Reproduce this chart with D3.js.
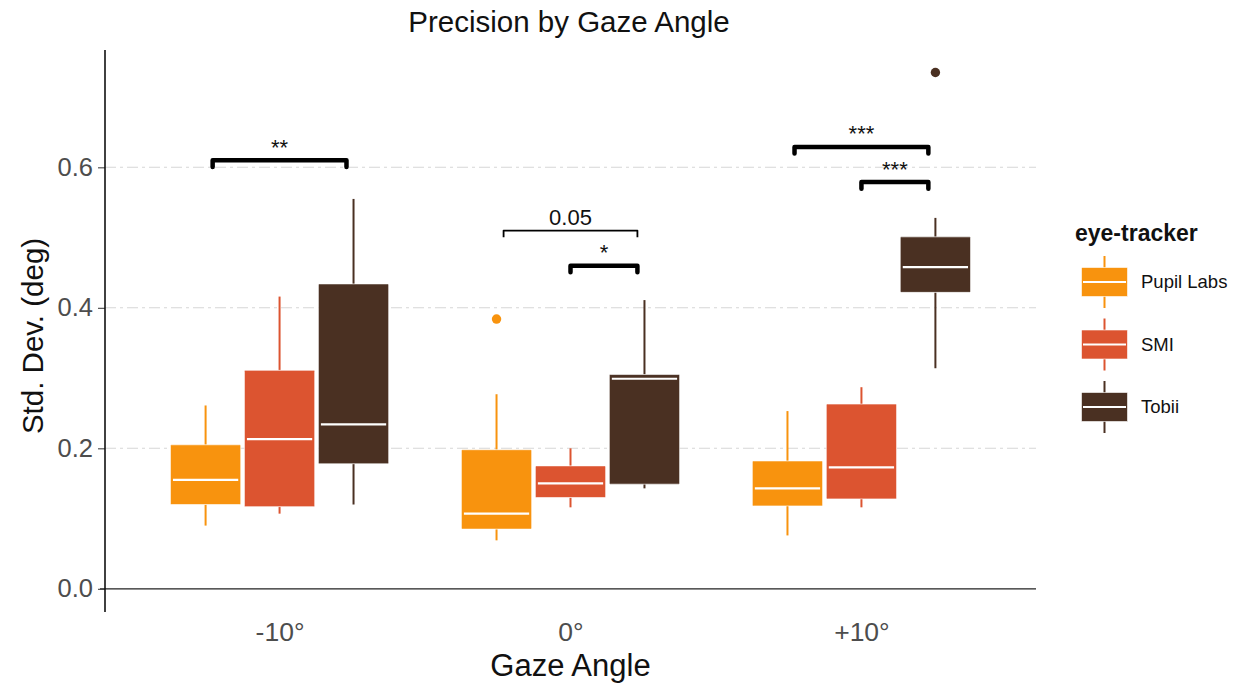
<!DOCTYPE html>
<html>
<head>
<meta charset="utf-8">
<script src="https://cdn.jsdelivr.net/npm/d3@7"></script>
<style>
  html, body { margin: 0; padding: 0; background: #ffffff; }
  svg { display: block; font-family: "Liberation Sans", Arial, sans-serif; }
</style>
</head>
<body>
<svg id="chart" width="1238" height="683"></svg>
<script>
// ---------------- data ----------------
const categories = ["-10°", "0°", "+10°"];
const trackers = ["Pupil Labs", "SMI", "Tobii"];
const trackerColors = ["#F8930E", "#DC5430", "#4A3022"];
const yTicks = [0.0, 0.2, 0.4, 0.6];
const gridValues = [0.2, 0.4, 0.6];

// [lower whisker, Q1, median, Q3, upper whisker] per gaze angle
const pupilStats = [
  [0.090, 0.120, 0.155, 0.205, 0.261],
  [0.069, 0.085, 0.107, 0.198, 0.277],
  [0.076, 0.118, 0.143, 0.182, 0.253]
];
const smiStats = [
  [0.107, 0.117, 0.213, 0.311, 0.416],
  [0.116, 0.130, 0.150, 0.175, 0.200],
  [0.116, 0.128, 0.173, 0.263, 0.287]
];
const tobiiStats = [
  [0.120, 0.178, 0.234, 0.434, 0.555],
  [0.143, 0.149, 0.299, 0.305, 0.411],
  [0.314, 0.422, 0.458, 0.501, 0.528]
];
const outlierCategory = ["0°", "+10°"];
const outlierTracker = ["Pupil Labs", "Tobii"];
const outlierValue = [0.384, 0.735];

// significance brackets
const bracketCategory = ["-10°", "0°", "0°", "+10°", "+10°"];
const bracketFrom = ["Pupil Labs", "Pupil Labs", "SMI", "Pupil Labs", "SMI"];
const bracketTo = ["Tobii", "Tobii", "Tobii", "Tobii", "Tobii"];
const bracketValue = [0.610, 0.510, 0.460, 0.629, 0.579];
const bracketLabel = ["**", "0.05", "*", "***", "***"];
const bracketThick = [true, false, true, true, true];

// ---------------- layout ----------------
const svg = d3.select("#chart");
const panel = { left: 105, right: 1036, top: 50, bottom: 612 };

const x = d3.scalePoint().domain(categories).range([panel.left, panel.right]).padding(0.6);
const step = x.step();
const dodge = d3.scaleBand().domain(trackers).range([-0.375 * step, 0.375 * step]).paddingInner(0.05);
const dodgeCenter = t => dodge(t) + dodge.bandwidth() / 2;
const y = d3.scaleLinear().domain([-0.033, 0.767]).range([panel.bottom, panel.top]);
const color = d3.scaleOrdinal().domain(trackers).range(trackerColors);

// grid
svg.append("g").selectAll("line").data(gridValues).join("line")
  .attr("x1", panel.left).attr("x2", panel.right)
  .attr("y1", d => y(d)).attr("y2", d => y(d))
  .attr("stroke", "#d6d6d6").attr("stroke-width", 1.1)
  .attr("stroke-dasharray", "11,4,3,4");

// y=0 horizontal line
svg.append("line")
  .attr("x1", panel.left - 5).attr("x2", panel.right)
  .attr("y1", y(0)).attr("y2", y(0))
  .attr("stroke", "#222").attr("stroke-width", 1.2);

// y axis
const yAxis = d3.axisLeft(y).tickValues(yTicks).tickFormat(d3.format(".1f")).tickSize(7).tickPadding(5);
const yg = svg.append("g").attr("transform", `translate(${panel.left},0)`).call(yAxis);
yg.select(".domain").remove();
yg.selectAll(".tick line").attr("stroke", "#444").attr("stroke-width", 1.1);
yg.selectAll(".tick text").attr("fill", "#4d4d4d").attr("font-size", 25.5)
  .attr("font-family", "Liberation Sans, Arial, sans-serif");
svg.append("line")
  .attr("x1", panel.left).attr("x2", panel.left)
  .attr("y1", panel.top).attr("y2", panel.bottom)
  .attr("stroke", "#111").attr("stroke-width", 1.6);

// x axis labels (no ticks, no line)
const xAxis = d3.axisBottom(x).tickSize(0).tickPadding(10);
const xg = svg.append("g").attr("transform", `translate(0,${panel.bottom})`).call(xAxis);
xg.select(".domain").remove();
xg.selectAll(".tick text").attr("fill", "#4d4d4d").attr("font-size", 26.5)
  .attr("font-family", "Liberation Sans, Arial, sans-serif");

// titles
svg.append("text").attr("x", 569).attr("y", 32).attr("text-anchor", "middle")
  .attr("font-size", 29.5).attr("fill", "#111").text("Precision by Gaze Angle");
svg.append("text").attr("x", (panel.left + panel.right) / 2).attr("y", 676).attr("text-anchor", "middle")
  .attr("font-size", 31).attr("fill", "#111").text("Gaze Angle");
svg.append("text").attr("transform", `translate(43,${(panel.top + panel.bottom) / 2 + 5}) rotate(-90)`)
  .attr("text-anchor", "middle").attr("font-size", 29.5).attr("fill", "#111").text("Std. Dev. (deg)");

// boxes
const statsByTracker = [pupilStats, smiStats, tobiiStats];
const boxes = [];
trackers.forEach((t, ti) => {
  categories.forEach((c, ci) => {
    const s = statsByTracker[ti][ci];
    boxes.push({ tracker: t, cat: c, lo: s[0], q1: s[1], med: s[2], q3: s[3], hi: s[4] });
  });
});

const bw = dodge.bandwidth();
const bg = svg.append("g");
const bgs = bg.selectAll("g").data(boxes).join("g")
  .attr("transform", d => `translate(${x(d.cat) + dodgeCenter(d.tracker)},0)`);
bgs.append("line").attr("x1", 0).attr("x2", 0)
  .attr("y1", d => y(d.hi)).attr("y2", d => y(d.q3))
  .attr("stroke", d => color(d.tracker)).attr("stroke-width", 2);
bgs.append("line").attr("x1", 0).attr("x2", 0)
  .attr("y1", d => y(d.q1)).attr("y2", d => y(d.lo))
  .attr("stroke", d => color(d.tracker)).attr("stroke-width", 2);
bgs.append("rect")
  .attr("x", -bw / 2).attr("width", bw)
  .attr("y", d => y(d.q3)).attr("height", d => y(d.q1) - y(d.q3))
  .attr("fill", d => color(d.tracker)).attr("stroke", "#ffffff").attr("stroke-width", 0.6).attr("rx", 1);
bgs.append("line").attr("x1", -bw / 2 + 2.5).attr("x2", bw / 2 - 2.5)
  .attr("y1", d => y(d.med)).attr("y2", d => y(d.med))
  .attr("stroke", "#ffffff").attr("stroke-width", 2.2);

// outliers
svg.append("g").selectAll("circle").data(outlierValue.map((v, i) => ({ v, c: outlierCategory[i], t: outlierTracker[i] })))
  .join("circle")
  .attr("cx", d => x(d.c) + dodgeCenter(d.t)).attr("cy", d => y(d.v)).attr("r", 4.7)
  .attr("fill", d => color(d.t));

// brackets
const brackets = bracketValue.map((v, i) => ({
  cat: bracketCategory[i], from: bracketFrom[i], to: bracketTo[i], v, label: bracketLabel[i], thick: bracketThick[i]
}));
const offsetFor = t => (trackers.indexOf(t) - 1) * 0.23 * step;
const tip = 0.0095;
const brg = svg.append("g");
brackets.forEach(b => {
  const x1 = x(b.cat) + offsetFor(b.from);
  const x2 = x(b.cat) + offsetFor(b.to);
  const path = d3.path();
  path.moveTo(x1, y(b.v - tip));
  path.lineTo(x1, y(b.v));
  path.lineTo(x2, y(b.v));
  path.lineTo(x2, y(b.v - tip));
  brg.append("path").attr("d", path.toString()).attr("fill", "none")
    .attr("stroke", "#000").attr("stroke-width", b.thick ? 4.5 : 1.8)
    .attr("stroke-linecap", b.thick ? "round" : "butt").attr("stroke-linejoin", "round");
  brg.append("text").attr("x", (x1 + x2) / 2).attr("y", y(b.v) - 5.5)
    .attr("text-anchor", "middle").attr("font-size", 22).attr("fill", "#111").text(b.label);
});

// legend
const lg = svg.append("g");
lg.append("text").attr("x", 1075).attr("y", 241).attr("font-size", 23).attr("font-weight", "bold")
  .attr("fill", "#111").text("eye-tracker");
const legendY = d3.scalePoint().domain(trackers).range([282, 407]);
const keyX = 1104.5, keyW = 46, keyH = 29, keyWh = 26;
const items = lg.selectAll("g.item").data(trackers).join("g").attr("class", "item")
  .attr("transform", t => `translate(${keyX},${legendY(t)})`);
items.append("line").attr("x1", 0).attr("x2", 0).attr("y1", -keyWh).attr("y2", keyWh)
  .attr("stroke", t => color(t)).attr("stroke-width", 2);
items.append("rect").attr("x", -keyW / 2).attr("y", -keyH / 2).attr("width", keyW).attr("height", keyH)
  .attr("fill", t => color(t)).attr("stroke", "#ffffff").attr("stroke-width", 0.6);
items.append("line").attr("x1", -keyW / 2 + 1.5).attr("x2", keyW / 2 - 1.5).attr("y1", 0).attr("y2", 0)
  .attr("stroke", "#ffffff").attr("stroke-width", 2.2);
items.append("text").attr("x", 1141 - keyX).attr("y", 0).attr("dy", "0.35em")
  .attr("font-size", 18.5).attr("fill", "#111").text(t => t);
</script>
</body>
</html>
